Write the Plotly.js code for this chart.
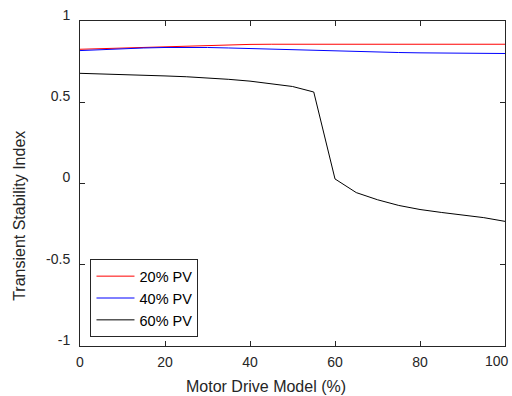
<!DOCTYPE html>
<html>
<head>
<meta charset="utf-8">
<script src="https://cdn.plot.ly/plotly-3.0.1.min.js"></script>
<style>html,body{margin:0;padding:0;background:#fff;}#chart{width:512px;height:396px;}</style>
</head>
<body>
<div id="chart"></div>
<script>
const motorDrive = [0,5,10,15,20,25,30,35,40,45,50,55,60,65,70,75,80,85,90,95,100];
const pv20 = [0.826,0.830,0.835,0.838,0.842,0.845,0.849,0.853,0.856,0.857,0.857,0.857,0.857,0.857,0.857,0.857,0.857,0.857,0.857,0.857,0.857];
const pv40 = [0.818,0.824,0.830,0.834,0.837,0.838,0.837,0.834,0.830,0.826,0.822,0.818,0.814,0.811,0.808,0.806,0.804,0.802,0.801,0.800,0.800];
const pv60 = [0.678,0.675,0.671,0.667,0.662,0.657,0.650,0.641,0.630,0.615,0.597,0.563,0.028,-0.056,-0.100,-0.135,-0.160,-0.178,-0.195,-0.210,-0.233];
const seriesNames = ['20% PV','40% PV','60% PV'];
const seriesColors = ['#ff0000','#0000ff','#000000'];
const xTicks = [0,20,40,60,80,100];
const xTickText = ['0','20','40','60','80','100'];
const yTicks = [-1,-0.5,0,0.5,1];
const yTickText = ['-1','-0.5','0','0.5','1'];

const font = 'Liberation Sans, Arial, sans-serif';
const series = [pv20, pv40, pv60];
const traces = series.map((ys, i) => ({
  x: motorDrive, y: ys, type: 'scatter', mode: 'lines',
  name: seriesNames[i], legendgroup: 'g' + i,
  line: {color: seriesColors[i], width: 1}
}));

const axisCommon = {
  showline: true, mirror: 'ticks', linecolor: '#262626', linewidth: 1,
  ticks: 'inside', ticklen: 5, tickcolor: '#262626', tickwidth: 1,
  showgrid: false, zeroline: false, ticklabeloverflow: 'allow',
  tickfont: {family: font, size: 14, color: '#262626'}
};

// the last x tick label sits at the right edge of the figure; it is drawn as an
// annotation anchored at its tick so that it stays inside the picture
const lastIdx = xTicks.length - 1;
const xTickTextAxis = xTickText.map((t, i) => i === lastIdx ? '' : t);

const layout = {
  width: 512, height: 396,
  margin: {l: 79.5, r: 7, t: 20.7, b: 50.3},
  paper_bgcolor: '#fff', plot_bgcolor: '#fff',
  xaxis: Object.assign({}, axisCommon, {range: [0,100], tickvals: xTicks, ticktext: xTickTextAxis, ticklabelstandoff: 3}),
  yaxis: Object.assign({}, axisCommon, {range: [-1,1], tickvals: yTicks, ticktext: yTickText, ticklabelshift: -6, ticklabelstandoff: 6}),
  showlegend: true,
  legend: {
    x: 0.0247, y: 0.267, xanchor: 'left', yanchor: 'top',
    bordercolor: '#262626', borderwidth: 1, bgcolor: '#fff',
    font: {family: font, size: 14.5, color: '#000'},
    tracegroupgap: 4, traceorder: 'normal', itemwidth: 38
  },
  annotations: [
    {text: xTickText[lastIdx], xref: 'x', yref: 'paper', x: xTicks[lastIdx], y: -(361-345.7)/325,
     xanchor: 'right', yanchor: 'middle', xshift: 6, showarrow: false, font: {family: font, size: 14, color: '#262626'}},
    {text: 'Motor Drive Model (%)', xref: 'paper', yref: 'paper', x: (266-79.5)/425.5, y: -(386-345.7)/325,
     xanchor: 'center', yanchor: 'middle', showarrow: false, font: {family: font, size: 16, color: '#262626'}},
    {text: 'Transient Stability Index', xref: 'paper', yref: 'paper', x: -(79.5-19)/425.5, y: (345.7-216)/325,
     xanchor: 'center', yanchor: 'middle', textangle: -90, showarrow: false, font: {family: font, size: 16, color: '#262626'}}
  ]
};

Plotly.newPlot('chart', traces, layout, {displayModeBar: false, staticPlot: true});
</script>
</body>
</html>
